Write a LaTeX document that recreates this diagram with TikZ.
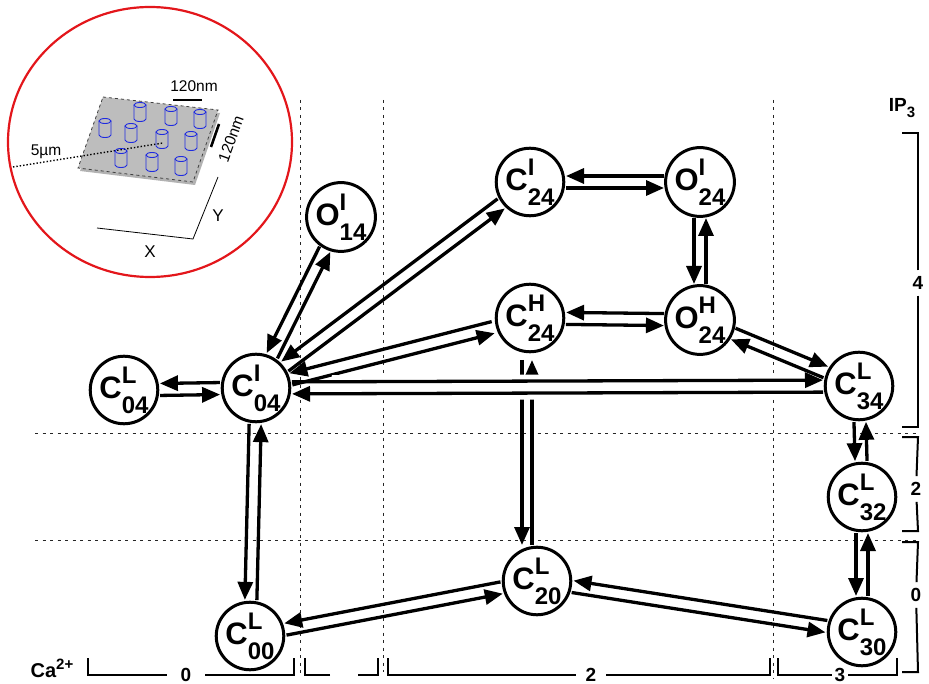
\documentclass[tikz,border=0pt]{standalone}
\usepackage{fontspec}
\setmainfont{Liberation Sans}
\usetikzlibrary{arrows.meta,calc}
\definecolor{insetred}{HTML}{E3161B}
\definecolor{pillarblue}{HTML}{1F2BE0}
\definecolor{plategray}{HTML}{BDBDBD}

% state label: letter with stacked super- and subscript
\newcommand{\st}[3]{#1\makebox[0pt][l]{\raisebox{15pt}{\fontsize{24}{24}\selectfont#2}}%
  \raisebox{-15pt}{\fontsize{24}{24}\selectfont#3}}

% two opposite transitions between #2 and #3, lines offset by #1
\newcommand{\flux}[5][6pt]{%
  \draw[arr] ($(#2)!#4!(#3)!#1!-90:(#3)$) -- ($(#3)!#5!(#2)!#1!90:(#2)$);
  \draw[arr] ($(#3)!#5!(#2)!#1!-90:(#2)$) -- ($(#2)!#4!(#3)!#1!90:(#3)$);
}

\begin{document}
\begin{tikzpicture}[x=1pt, y=-1pt,
  state/.style={circle, draw, line width=3pt, fill=white, minimum size=64pt,
                inner sep=0pt, font=\bfseries\fontsize{31}{31}\selectfont},
  arr/.style={-{Triangle[length=18pt,width=15pt]}, line width=3.3pt},
  over/.style={preaction={draw=white, line width=13pt, arrows=-,
                          shorten >=40pt, shorten <=40pt}},
  guide/.style={dash pattern=on 3pt off 4.5pt, line width=1pt, black!85},
  brk/.style={line width=2pt},
  lab/.style={font=\bfseries\fontsize{19}{19}\selectfont, inner sep=6pt},
  note/.style={font=\fontsize{15.5}{15.5}\selectfont, inner sep=0pt},
  pillar/.style={draw=pillarblue, line width=0.9pt}
]
\useasboundingbox (0,0) rectangle (929,684);

% level guides
\draw[guide] (300,100) -- (300,676);
\draw[guide] (383,100) -- (383,672);
\draw[guide] (773,100) -- (773,678);
\draw[guide] (35,433) -- (917,433);
\draw[guide] (35,540) -- (917,540);

% IP3 brackets
\node[lab, font=\bfseries\fontsize{19}{19}\selectfont] (ip) at (902,108) {IP\raisebox{-6pt}{\fontsize{15}{15}\selectfont3}};
\node[lab] (ip4) at (918,283) {4};
\draw[brk] (ip4) -- (918,133) -- (902,133);
\draw[brk] (ip4) -- (918,427) -- (902,427);
\node[lab] (ip2) at (916,489) {2};
\draw[brk] (ip2) -- (918,437) -- (902,437);
\draw[brk] (ip2) -- (918,531) -- (902,531);
\node[lab] (ip0) at (916,595) {0};
\draw[brk] (ip0) -- (918,542) -- (902,542);
\draw[brk] (ip0) -- (918,672) -- (902,672);

% Ca2+ brackets
\node[lab, inner sep=1pt, font=\bfseries\fontsize{20}{20}\selectfont] (ca) at (52,668) {Ca\raisebox{8pt}{\fontsize{15}{15}\selectfont2+}};
\node[lab, inner xsep=14pt, inner ysep=1pt] (ca0) at (186,675) {0};
\draw[brk] (ca0) -- (88,675) -- (88,658);
\draw[brk] (ca0) -- (294,675) -- (294,658);
\draw[brk] (330,675) -- (305,675) -- (305,658);
\draw[brk] (358,675) -- (378,675) -- (378,658);
\node[lab, inner xsep=10pt, inner ysep=1pt] (ca2) at (591,675) {2};
\draw[brk] (ca2) -- (388,675) -- (388,658);
\draw[brk] (ca2) -- (770,675) -- (770,658);
\node[lab, inner xsep=3pt, inner ysep=1pt] (ca3) at (840,675) {3};
\draw[brk] (ca3) -- (778,675) -- (778,658);
\draw[brk] (ca3) -- (897,675) -- (897,658);

% inset: pillars on the plate
\draw[insetred, line width=2.2pt, fill=white] (150,142) ellipse [x radius=142, y radius=135];
\fill[black!30] (105,100) -- (220,113) -- (195,185) -- (80,171) -- cycle;
\filldraw[fill=plategray, draw=black!75, dashed, line width=0.8pt]
  (103,97) -- (218,110) -- (193,182) -- (78,168) -- cycle;
\draw[dotted, line width=1.4pt] (13,167) -- (163,143);
\foreach \x/\y in {140/112, 171/116, 200/119, 105/128, 131/133,
                   162/139, 191/141, 121/158, 152/162, 181/166} {
  \draw[pillar] (\x-6,\y-7) -- (\x-6,\y+7)
    arc[start angle=180, end angle=0, x radius=6, y radius=2.5] -- (\x+6,\y-7);
  \draw[pillar] (\x,\y-7) ellipse [x radius=6, y radius=2.5];
}
\draw[line width=2.6pt] (173,100) -- (202,100);
\draw[line width=2.6pt] (219,124) -- (211,147);
\node[note] (nmx) at (194,86) {120nm};
\node[note, rotate=70] (nmy) at (231,139) {120nm};
\node[note] (um) at (46,152) {5µm};
\draw[line width=0.8pt] (97,228) -- (193,239) -- (218,177);
\node[note, font=\fontsize{17}{17}\selectfont] (ax) at (150,252) {X};
\node[note, font=\fontsize{17}{17}\selectfont] (ay) at (218,216) {Y};

% states
\node[state] (C04L) at (124,390) {\st{C}{L}{04}};
\node[state] (C04I) at (256,388) {\st{C}{I}{04}};
\node[state] (O14I) at (341,217) {\st{O}{I}{14}};
\node[state] (C24I) at (530,182) {\st{C}{I}{24}};
\node[state] (O24I) at (700,182) {\st{O}{I}{24}};
\node[state] (C24H) at (530,318) {\st{C}{H}{24}};
\node[state] (O24H) at (700,320) {\st{O}{H}{24}};
\node[state] (C34L) at (859,386) {\st{C}{L}{34}};
\node[state] (C32L) at (862,497) {\st{C}{L}{32}};
\node[state] (C30L) at (862,632) {\st{C}{L}{30}};
\node[state] (C20L) at (537,581) {\st{C}{L}{20}};
\node[state] (C00L) at (250,636) {\st{C}{L}{00}};

% transitions
\flux{C04L}{C04I}{36pt}{36pt}
\flux{C04I}{O14I}{36pt}{36pt}
\flux{C04I}{C24I}{36pt}{36pt}
\flux{C04I}{C24H}{36pt}{38pt}
\flux{C24I}{O24I}{36pt}{36pt}
\flux{O24I}{O24H}{36pt}{36pt}
\flux{C24H}{O24H}{36pt}{36pt}
\flux[-6pt]{O24H}{C34L}{36pt}{36pt}
\flux{C34L}{C32L}{36pt}{36pt}
\flux{C32L}{C30L}{36pt}{36pt}
\flux{C30L}{C20L}{36pt}{36pt}
\flux{C20L}{C00L}{36pt}{36pt}
\flux{C04I}{C00L}{36pt}{36pt}
\coordinate (hv) at ([xshift=-3pt]C24H.center);
\coordinate (lv) at (hv |- C20L.center);
\flux[5pt]{hv}{lv}{42pt}{36pt}
\begin{scope}[arr/.append style=over]
\flux[-6pt]{C04I}{C34L}{36pt}{36pt}
\end{scope}
\end{tikzpicture}
\end{document}
